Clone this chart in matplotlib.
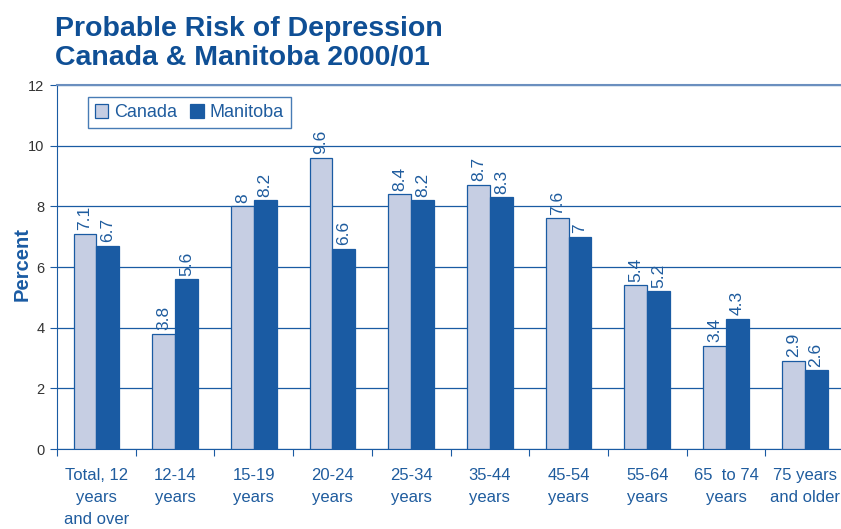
import matplotlib
matplotlib.use("Agg")
import matplotlib.pyplot as plt
import numpy as np

plt.rcParams['font.family'] = ['Liberation Sans', 'DejaVu Sans']

# age groups and survey results (percent)
categories = ["Total, 12\nyears\nand over", "12-14\nyears", "15-19\nyears", "20-24\nyears",
              "25-34\nyears", "35-44\nyears", "45-54\nyears", "55-64\nyears",
              "65  to 74\nyears", "75 years\nand older"]
canada = [7.1, 3.8, 8, 9.6, 8.4, 8.7, 7.6, 5.4, 3.4, 2.9]
manitoba = [6.7, 5.6, 8.2, 6.6, 8.2, 8.3, 7, 5.2, 4.3, 2.6]

blue = "#1a5ba3"
light = "#c6cee3"
text_blue = "#1f5c9e"

fig = plt.figure(figsize=(8.41, 5.29), dpi=100)
ax = fig.add_axes([0.0678, 0.1512, 0.9358, 0.6881])

x = np.arange(len(categories))
w = 0.29
b1 = ax.bar(x - w / 2, canada, w, color=light, edgecolor=blue, linewidth=0.9, label="Canada", zorder=3)
b2 = ax.bar(x + w / 2, manitoba, w, color=blue, edgecolor=blue, linewidth=0.9, label="Manitoba", zorder=3)

# value labels standing on top of each bar
for bars, vals in ((b1, canada), (b2, manitoba)):
    for r, v in zip(bars, vals):
        ax.text(r.get_x() + r.get_width() / 2, v + 0.12, f"{v:g}", rotation=90,
                ha="center", va="bottom", fontsize=12.5, color=text_blue)

ax.set_xlim(-0.5, len(categories) - 0.5)
ax.set_ylim(0, 12)
ax.set_yticks(range(0, 13, 2))
ax.yaxis.grid(True, color=blue, linewidth=0.9, zorder=0)
ax.set_axisbelow(True)

# group separators as major ticks, category names on minor ticks
ax.set_xticks(np.arange(len(categories) + 1) - 0.5, minor=False)
ax.set_xticklabels([])
ax.set_xticks(x, minor=True)
ax.set_xticklabels(categories, minor=True, fontsize=12, color=text_blue, linespacing=1.55)
ax.tick_params(axis="x", which="minor", length=0, pad=14)
ax.tick_params(axis="x", which="major", length=5, color=blue, direction="out")
ax.tick_params(axis="y", length=5, color=blue, labelsize=10.5, labelcolor="#333333", pad=4)

ax.spines["right"].set_visible(False)
ax.spines["top"].set_color("#6b8fbf")
ax.spines["top"].set_linewidth(1.5)
ax.spines["left"].set_color(blue)
ax.spines["bottom"].set_color(blue)

fig.text(22 / 841, 0.5, "Percent", rotation=90, fontsize=14.5, fontweight="bold",
         color=blue, ha="center", va="center")

leg = ax.legend(loc="upper left", bbox_to_anchor=(0.039, 0.967), ncol=2, fontsize=13,
                frameon=True, fancybox=False, borderaxespad=0, handlelength=0.75,
                handleheight=0.75, handletextpad=0.3, columnspacing=0.75, borderpad=0.4,
                labelcolor=text_blue)
leg.get_frame().set_edgecolor(blue)
leg.get_frame().set_linewidth(1.0)

fig.text(0.065, 0.918, "Probable Risk of Depression\nCanada & Manitoba 2000/01", fontsize=20.5,
         fontweight="bold", color="#0f4f95", ha="left", va="center", linespacing=1.18)

fig.savefig("out.png", dpi=100)
